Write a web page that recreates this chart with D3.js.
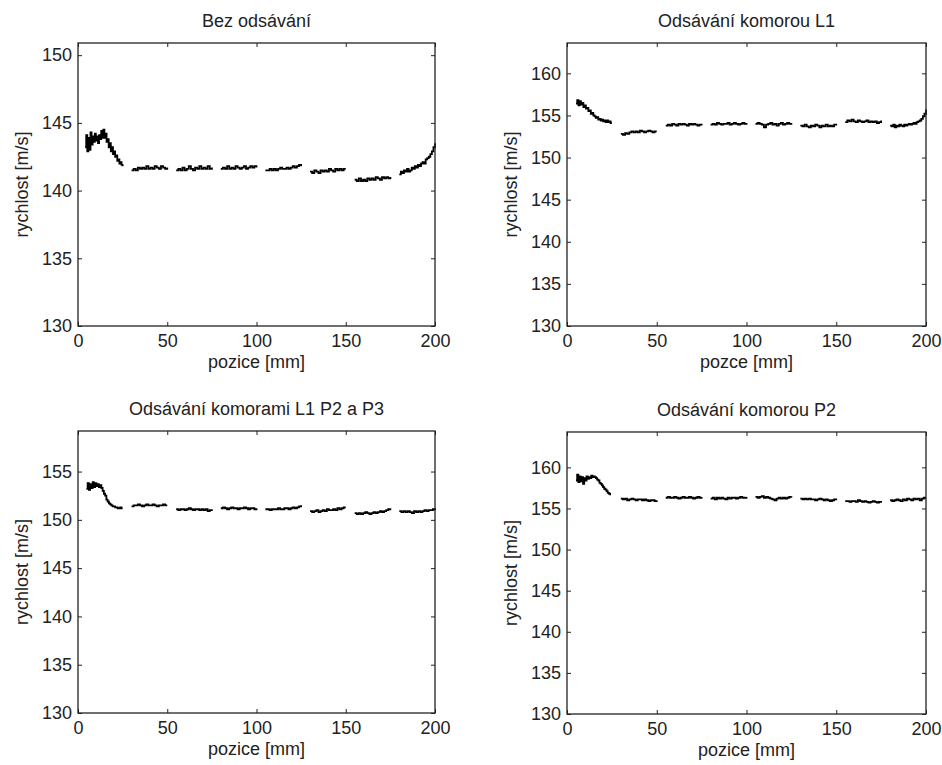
<!DOCTYPE html>
<html>
<head>
<meta charset="utf-8">
<script src="https://cdn.jsdelivr.net/npm/d3@7"></script>
<style>
  html, body { margin: 0; padding: 0; background: #fff; }
  svg text { font-family: "Liberation Sans", Arial, Helvetica, sans-serif; fill: #222; }
</style>
</head>
<body>
<svg id="chart" width="942" height="765"></svg>
<script>
// ---------------- DATA ----------------
const titles = ["Bez odsávání", "Odsávání komorou L1", "Odsávání komorami L1 P2 a P3", "Odsávání komorou P2"];
const xLabels = ["pozice [mm]", "pozce [mm]", "pozice [mm]", "pozice [mm]"];
const yLabel = "rychlost [m/s]";
const xTicks = [0, 50, 100, 150, 200];
const yTicks1 = [130, 135, 140, 145, 150];
const yTicks2 = [130, 135, 140, 145, 150, 155, 160];
const yTicks3 = [130, 135, 140, 145, 150, 155];
const yTicks4 = [130, 135, 140, 145, 150, 155, 160];
const yMax = [150.9, 163.6, 159.2, 164.3];

// measurement segments: start/end position [mm]
const segStart1 = [4, 30, 55, 80, 105, 130, 155, 180];
const segStart2 = [5, 30, 55, 80, 105, 130, 155, 180];
const segStart3 = [4.7, 30, 55, 80, 105, 130, 155, 180];
const segStart4 = [5, 30, 55, 80, 105, 130, 155, 180];
const segEnd1 = [25, 50, 75, 100, 125, 150, 175, 200];
const segEnd4 = [24, 50, 75, 100, 125, 150, 175, 200];

// velocity samples [m/s] per segment
const bezOdsavani = [
  [143.2,144.1,142.9,143.9,143.0,144.3,143.4,144.0,143.6,144.2,143.7,144.0,143.5,144.1,143.8,144.4,143.9,144.5,143.9,144.2,143.6,143.8,143.2,143.5,142.9,143.2,142.7,142.9,142.5,142.6,142.2,142.3,142.0,142.1,141.9,141.8],
  [141.5,141.6,141.5,141.7,141.6,141.7,141.6,141.8,141.6,141.7,141.6,141.8,141.7,141.6,141.8,141.7,141.6,141.7],
  [141.5,141.6,141.5,141.7,141.5,141.6,141.8,141.6,141.5,141.7,141.6,141.8,141.6,141.7,141.6,141.8,141.6,141.7],
  [141.6,141.7,141.6,141.8,141.6,141.7,141.6,141.8,141.7,141.6,141.7,141.8,141.6,141.7,141.8,141.7,141.8,141.7],
  [141.5,141.5,141.6,141.5,141.6,141.5,141.6,141.7,141.6,141.6,141.7,141.6,141.7,141.8,141.7,141.8,141.9,141.8],
  [141.4,141.3,141.5,141.4,141.3,141.5,141.4,141.5,141.4,141.6,141.5,141.4,141.6,141.5,141.6,141.5,141.6,141.6],
  [140.8,140.7,140.9,140.7,140.8,140.7,140.9,140.8,140.9,140.8,141.0,140.9,140.8,141.0,140.9,141.0,140.9,141.0],
  [141.2,141.4,141.3,141.5,141.4,141.6,141.4,141.5,141.7,141.6,141.8,141.7,141.9,141.8,142.0,142.1,142.0,142.3,142.4,142.5,142.7,142.9,143.2,143.5]
];
const komorouL1 = [
  [156.4,156.8,156.2,156.7,156.3,156.5,156.0,156.2,155.8,155.9,155.5,155.6,155.2,155.3,155.0,154.9,154.7,154.8,154.5,154.6,154.4,154.5,154.3,154.4,154.2,154.4,154.2,154.3,154.1,154.1],
  [152.8,152.7,152.9,152.8,153.0,153.1,153.0,153.1,153.0,153.2,153.1,153.0,153.1,153.2,153.1,153.0,153.1,153.1],
  [153.8,153.9,153.8,154.0,153.9,153.8,154.0,153.9,154.0,153.9,153.8,154.0,153.9,154.0,153.9,153.8,153.9,153.8],
  [153.9,154.0,153.9,154.1,154.0,153.9,154.0,154.0,154.1,153.9,154.0,154.1,154.0,153.9,154.0,154.1,154.0,153.9],
  [154.0,154.1,154.0,153.9,153.6,153.9,154.0,154.1,153.9,154.0,153.8,154.0,154.1,153.9,154.0,154.1,154.0,154.1],
  [153.8,153.7,153.9,153.7,153.6,153.8,153.7,153.9,153.8,153.6,153.8,153.7,153.9,153.7,153.8,153.7,153.9,153.8],
  [154.2,154.4,154.3,154.5,154.3,154.2,154.4,154.3,154.2,154.3,154.4,154.2,154.3,154.2,154.3,154.1,154.2,154.4],
  [153.8,153.7,153.9,153.6,153.8,153.7,153.9,153.8,153.7,153.9,153.8,153.9,154.0,153.9,154.0,154.1,154.0,154.2,154.3,154.4,154.6,154.9,155.2,155.7]
];
const komoramiL1P2P3 = [
  [153.2,153.8,153.1,153.7,153.3,153.9,153.4,153.8,153.5,153.7,153.4,153.6,153.3,153.0,152.7,152.5,152.1,151.9,151.7,151.6,151.5,151.4,151.4,151.3,151.3,151.2,151.2,151.3,151.2,151.2],
  [151.4,151.5,151.5,151.6,151.5,151.4,151.5,151.6,151.5,151.5,151.6,151.5,151.4,151.5,151.5,151.6,151.5,151.5],
  [151.1,151.0,151.1,151.1,151.0,151.1,151.2,151.1,151.0,151.1,151.1,151.0,151.1,151.0,151.1,150.9,151.0,151.1],
  [151.2,151.3,151.2,151.1,151.2,151.3,151.2,151.2,151.1,151.2,151.2,151.3,151.2,151.1,151.2,151.2,151.1,151.2],
  [151.1,151.1,151.0,151.1,151.1,151.1,151.2,151.1,151.1,151.2,151.2,151.1,151.2,151.3,151.2,151.3,151.4,151.5],
  [150.9,150.8,150.9,151.0,150.8,150.9,151.0,150.9,151.1,151.0,151.0,151.1,151.0,151.2,151.1,151.2,151.3,151.3],
  [150.7,150.6,150.7,150.6,150.7,150.8,150.7,150.6,150.7,150.8,150.7,150.8,150.9,150.8,150.9,151.0,151.1,151.2],
  [150.9,150.8,150.9,150.8,150.9,150.8,150.7,150.9,150.8,150.9,150.8,150.9,151.0,150.9,151.0,151.0,151.1,151.2]
];
const komorouP2 = [
  [158.4,159.1,158.2,158.9,158.3,158.8,158.0,158.7,158.4,158.9,158.6,158.8,158.7,159.0,158.8,158.9,158.8,158.7,158.5,158.4,158.1,158.0,157.8,157.6,157.4,157.3,157.1,156.9,156.8,156.6],
  [156.2,156.1,156.2,156.0,156.1,156.2,156.1,156.0,156.1,156.1,156.0,156.1,156.0,155.9,156.0,156.0,155.9,156.0],
  [156.3,156.4,156.3,156.3,156.4,156.3,156.2,156.3,156.4,156.3,156.3,156.4,156.3,156.2,156.3,156.4,156.3,156.4],
  [156.2,156.3,156.1,156.3,156.2,156.3,156.2,156.1,156.3,156.2,156.3,156.3,156.2,156.3,156.4,156.3,156.3,156.4],
  [156.4,156.3,156.4,156.5,156.3,156.4,156.3,156.2,156.1,156.0,156.2,156.3,156.2,156.3,156.2,156.3,156.4,156.5],
  [156.2,156.1,156.2,156.1,156.2,156.1,156.1,156.0,156.1,156.2,156.1,156.0,156.1,156.0,155.9,156.0,156.1,156.0],
  [155.9,155.9,155.8,155.9,155.9,155.8,156.0,155.9,155.8,155.9,155.8,155.7,155.8,155.9,155.8,155.7,155.8,155.9],
  [156.0,155.9,156.0,156.1,156.0,155.9,156.1,156.0,156.2,156.1,156.0,156.2,156.1,156.2,156.0,156.2,156.3,156.3]
];

// ---------------- LAYOUT ----------------
const panels = [
  { data: bezOdsavani,    starts: segStart1, ends: segEnd1, yTicks: yTicks1, left: 78,  right: 435, top: 43,  bottom: 326 },
  { data: komorouL1,      starts: segStart2, ends: segEnd1, yTicks: yTicks2, left: 567, right: 926, top: 43,  bottom: 326 },
  { data: komoramiL1P2P3, starts: segStart3, ends: segEnd1, yTicks: yTicks3, left: 78,  right: 435, top: 431, bottom: 713 },
  { data: komorouP2,      starts: segStart4, ends: segEnd4, yTicks: yTicks4, left: 567, right: 926, top: 432, bottom: 714 }
];

const svg = d3.select("#chart");
svg.append("rect").attr("width", 942).attr("height", 765).attr("fill", "#fff");

const FS = 18;
const TICK = 4;

panels.forEach((p, i) => {
  const w = p.right - p.left, h = p.bottom - p.top;
  const x = d3.scaleLinear().domain([0, 200]).range([0, w]);
  const y = d3.scaleLinear().domain([130, yMax[i]]).range([h, 0]);
  const g = svg.append("g").attr("transform", `translate(${p.left},${p.top})`);

  // data
  const line = d3.line().x(d => x(d[0])).y(d => y(d[1])).curve(d3.curveStepAfter);
  p.data.forEach((vals, k) => {
    const x0 = p.starts[k], x1 = p.ends[k], n = vals.length;
    const pts = vals.map((v, j) => [x0 + (x1 - x0) * j / (n - 1), v]);
    g.append("path").datum(pts).attr("d", line)
      .attr("fill", "none").attr("stroke", "#000").attr("stroke-width", 1.8)
      .attr("stroke-linejoin", "miter");
  });

  // axes (ticks pointing inward)
  const styleAxis = sel => {
    sel.select(".domain").remove();
    sel.selectAll(".tick line").attr("stroke", "#222").attr("stroke-width", 1);
    sel.selectAll("text").attr("font-size", FS).attr("fill", "#222")
      .style("font-family", '"Liberation Sans", Arial, sans-serif');
  };
  g.append("g").call(d3.axisLeft(y).tickValues(p.yTicks).tickSize(-TICK).tickPadding(6).tickFormat(d3.format("d"))).call(styleAxis);
  g.append("g").attr("transform", `translate(${w},0)`).call(d3.axisRight(y).tickValues(p.yTicks).tickSize(-TICK).tickFormat("")).call(styleAxis);
  g.append("g").attr("transform", `translate(0,${h})`).call(d3.axisBottom(x).tickValues(xTicks).tickSize(-TICK).tickPadding(8).tickFormat(d3.format("d"))).call(styleAxis);
  g.append("g").call(d3.axisTop(x).tickValues(xTicks).tickSize(-TICK).tickFormat("")).call(styleAxis);

  // box
  g.append("rect").attr("width", w).attr("height", h)
    .attr("fill", "none").attr("stroke", "#222").attr("stroke-width", 1.3);

  // title
  g.append("text").attr("x", w / 2).attr("y", -16).attr("text-anchor", "middle")
    .attr("font-size", FS).text(titles[i]);
  // x label
  g.append("text").attr("x", w / 2).attr("y", h + 42).attr("text-anchor", "middle")
    .attr("font-size", FS).text(xLabels[i]);
  // y label
  g.append("text").attr("transform", `translate(-50,${h / 2}) rotate(-90)`)
    .attr("text-anchor", "middle").attr("font-size", FS).text(yLabel);
});
</script>
</body>
</html>
